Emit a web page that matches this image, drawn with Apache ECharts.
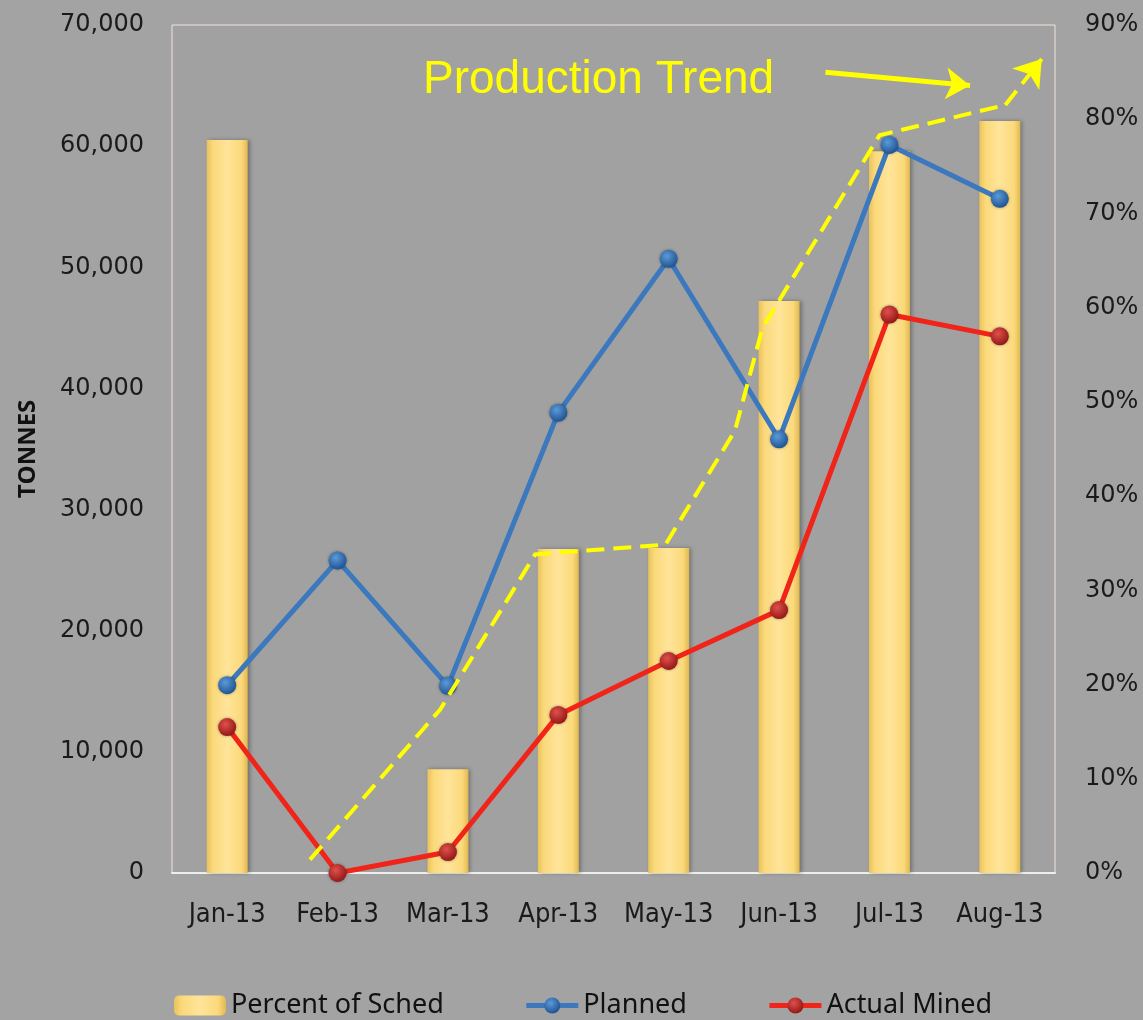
<!DOCTYPE html>
<html>
<head>
<meta charset="utf-8">
<script src="https://cdn.jsdelivr.net/npm/echarts@6/dist/echarts.min.js"></script>
<style>
  html, body { margin: 0; padding: 0; background: #a3a3a3; }
  #chart { width: 1143px; height: 1020px; }
</style>
</head>
<body>
<div id="chart"></div>
<script>
const months = ["Jan-13", "Feb-13", "Mar-13", "Apr-13", "May-13", "Jun-13", "Jul-13", "Aug-13"];
const percentOfSched = [77.8, 0, 11.0, 34.4, 34.5, 60.7, 76.6, 79.8];
const planned = [15500, 25800, 15450, 38000, 50700, 35800, 60100, 55650];
const actualMined = [12050, 0, 1730, 13050, 17500, 21700, 46100, 44300];
// hand-drawn trend annotation, [month index, tonnes]
const trendPath = [[0.75, 1100], [1.93, 13500], [2.79, 26300], [3.97, 27100], [4.6, 36500], [4.85, 45000], [5.91, 60900], [7.05, 63400]];
const trendTip = [[7.05, 63400], [7.38, 67200]];
const pointerPath = [[5.42, 66100], [6.73, 65000]];

const chart = echarts.init(document.getElementById("chart"));

const sphere = (c1, c2) => ({
  type: "radial", x: 0.4, y: 0.35, r: 0.7,
  colorStops: [{ offset: 0, color: c1 }, { offset: 1, color: c2 }],
});

const trendStyle = { color: "#ffff00", width: 4, type: [18, 9], opacity: 1, curveness: 0 };

const option = {
  backgroundColor: "#a3a3a3",
  animation: false,
  title: {
    text: "Production Trend",
    left: 418,
    top: 52,
    textStyle: { color: "#ffff00", fontSize: 46, fontWeight: "normal", fontFamily: "Liberation Sans" },
  },
  grid: {
    left: 172, right: 88, top: 25, bottom: 147,
    show: true, borderColor: "#f2e2da", borderWidth: 1, backgroundColor: "#a1a1a1",
  },
  legend: {
    bottom: -4,
    left: 169,
    itemWidth: 52,
    itemHeight: 20,
    itemGap: 80,
    lineStyle: { width: 5 },
    textStyle: { fontSize: 27, color: "#111", fontFamily: "Noto Sans" },
    data: ["Percent of Sched", "Planned", "Actual Mined"],
  },
  xAxis: [
    {
      type: "category",
      data: months,
      axisTick: { show: false },
      axisLine: { lineStyle: { color: "#eeeeee", width: 2 } },
      axisLabel: { interval: 0, color: "#1a1a1a", fontSize: 27, margin: 28, fontFamily: "DejaVu Sans Condensed, DejaVu Sans" },
    },
    { type: "value", min: -0.5, max: 7.5, show: false },
  ],
  yAxis: [
    {
      type: "value",
      name: "TONNES",
      nameLocation: "middle",
      nameRotate: 90,
      nameGap: 132,
      nameTextStyle: { fontSize: 24, fontWeight: "bold", color: "#111", fontFamily: "Open Sans" },
      min: 0, max: 70000, interval: 10000,
      splitLine: { show: false },
      axisLine: { show: false },
      axisTick: { show: false },
      axisLabel: {
        color: "#1a1a1a", fontSize: 24, margin: 28, fontFamily: "DejaVu Sans",
        formatter: (v) => v.toLocaleString("en-US"),
      },
    },
    {
      type: "value",
      min: 0, max: 90, interval: 10,
      splitLine: { show: false },
      axisLine: { show: false },
      axisTick: { show: false },
      axisLabel: { color: "#1a1a1a", fontSize: 24, margin: 30, fontFamily: "DejaVu Sans", formatter: "{value}%" },
    },
  ],
  series: [
    {
      name: "Percent of Sched",
      type: "bar",
      yAxisIndex: 1,
      barWidth: 41,
      data: percentOfSched,
      itemStyle: {
        color: {
          type: "linear", x: 0, y: 0, x2: 1, y2: 0,
          colorStops: [
            { offset: 0, color: "#e8c25c" },
            { offset: 0.15, color: "#fbd97a" },
            { offset: 0.5, color: "#ffe49a" },
            { offset: 0.85, color: "#fbd97a" },
            { offset: 1, color: "#e0b850" },
          ],
        },
        shadowBlur: 4,
        shadowOffsetX: 2,
        shadowColor: "rgba(0,0,0,0.3)",
      },
    },
    {
      name: "Planned",
      type: "line",
      data: planned,
      symbol: "circle",
      symbolSize: 18,
      lineStyle: { color: "#3b78bd", width: 5 },
      itemStyle: { color: sphere("#5b9ad8", "#1c4f8e"), shadowBlur: 3, shadowColor: "rgba(0,0,0,0.4)" },
    },
    {
      name: "Actual Mined",
      type: "line",
      data: actualMined,
      symbol: "circle",
      symbolSize: 18,
      lineStyle: { color: "#f02418", width: 5 },
      itemStyle: { color: sphere("#e0504a", "#8e1414"), shadowBlur: 3, shadowColor: "rgba(0,0,0,0.4)" },
    },
    {
      name: "trend",
      type: "lines",
      coordinateSystem: "cartesian2d",
      xAxisIndex: 1,
      yAxisIndex: 0,
      polyline: true,
      symbol: "none",
      lineStyle: trendStyle,
      data: [{ coords: trendPath }],
      z: 5,
    },
    {
      name: "trendTip",
      type: "lines",
      coordinateSystem: "cartesian2d",
      xAxisIndex: 1,
      yAxisIndex: 0,
      symbol: ["none", "arrow"],
      symbolSize: 26,
      lineStyle: trendStyle,
      data: [{ coords: trendTip }],
      z: 5,
    },
    {
      name: "pointer",
      type: "lines",
      coordinateSystem: "cartesian2d",
      xAxisIndex: 1,
      yAxisIndex: 0,
      symbol: ["none", "arrow"],
      symbolSize: 24,
      lineStyle: { color: "#ffff00", width: 5, opacity: 1, curveness: 0 },
      data: [{ coords: pointerPath }],
      z: 5,
    },
  ],
};

chart.setOption(option);
</script>
</body>
</html>
